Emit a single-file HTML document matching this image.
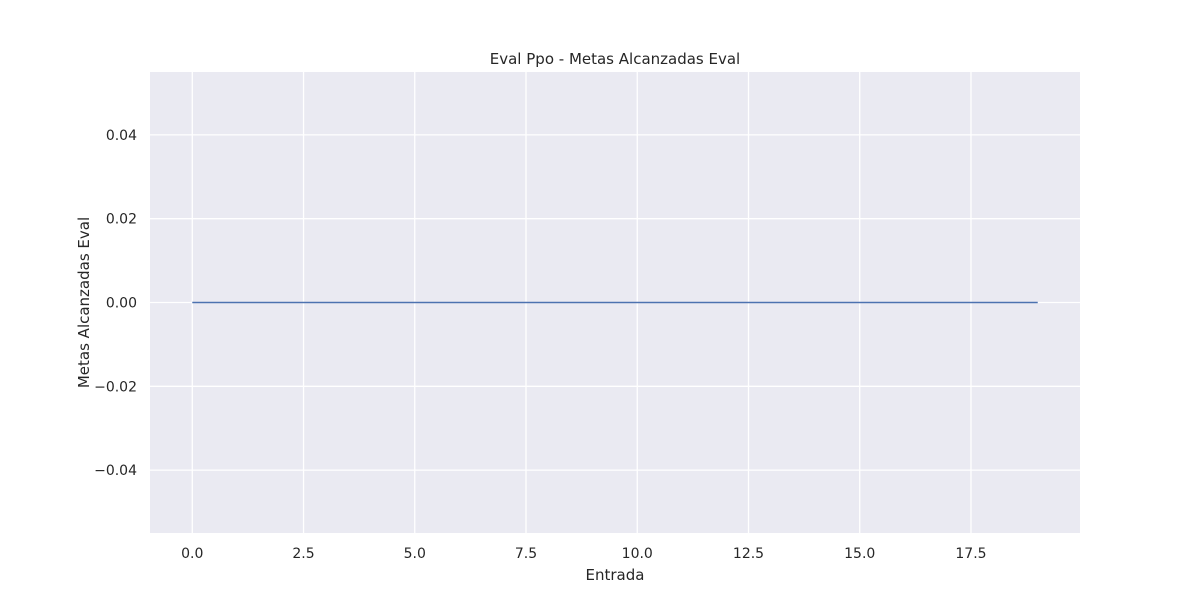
<!DOCTYPE html>
<html><head><meta charset="utf-8"><style>
body{margin:0;background:#fff;font-family:"DejaVu Sans","Liberation Sans",sans-serif;}
</style></head><body>
<svg id="chart" width="1200" height="600" xmlns="http://www.w3.org/2000/svg" font-family="DejaVu Sans, Liberation Sans, sans-serif"></svg>
<script>
const xValues=[0,1,2,3,4,5,6,7,8,9,10,11,12,13,14,15,16,17,18,19];
const yValues=[0,0,0,0,0,0,0,0,0,0,0,0,0,0,0,0,0,0,0,0];
const xTicks=[0,2.5,5,7.5,10,12.5,15,17.5];
const xTickLabels=["0.0","2.5","5.0","7.5","10.0","12.5","15.0","17.5"];
const yTicks=[-0.04,-0.02,0,0.02,0.04];
const yTickLabels=["\u22120.04","\u22120.02","0.00","0.02","0.04"];
const L=150,R=1080,T=72,B=533;
const xMin=-0.95,xMax=19.95,yMin=-0.055,yMax=0.055;
const sx=v=>L+(v-xMin)/(xMax-xMin)*(R-L);
const sy=v=>B-(v-yMin)/(yMax-yMin)*(B-T);
const svg=document.getElementById('chart');
const NS='http://www.w3.org/2000/svg';
function mk(tag,attrs,txt){const e=document.createElementNS(NS,tag);for(const k in attrs)e.setAttribute(k,attrs[k]);if(txt!==undefined)e.textContent=txt;svg.appendChild(e);return e;}
let bg=mk('rect',{x:L,y:T,width:R-L,height:B-T,fill:'#eaeaf2'});


xTicks.forEach((t,i)=>{
  let g=mk('line',{x1:sx(t),x2:sx(t),y1:T,y2:B,stroke:'#fff','stroke-width':1.3});
  
  
  let l=mk('text',{x:sx(t),y:B+25,'text-anchor':'middle','font-size':14,fill:'#262626'},xTickLabels[i]);
  
  
});
yTicks.forEach((t,i)=>{
  let g=mk('line',{x1:L,x2:R,y1:sy(t),y2:sy(t),stroke:'#fff','stroke-width':1.3});
  
  
  let l=mk('text',{x:L-13,y:sy(t)+5,'text-anchor':'end','font-size':14,fill:'#262626'},yTickLabels[i]);
  
  
});
let d=xValues.map((x,i)=>(i?'L':'M')+sx(x)+','+sy(yValues[i])).join(' ');
let p=mk('path',{d:d,fill:'none',stroke:'#4c72b0','stroke-width':1.6});


let ti=mk('text',{x:(L+R)/2,y:64,'text-anchor':'middle','font-size':15,fill:'#262626'},'Eval Ppo - Metas Alcanzadas Eval');


let xt=mk('text',{x:(L+R)/2,y:580,'text-anchor':'middle','font-size':15,fill:'#262626'},'Entrada');


let yt=mk('text',{x:0,y:0,'text-anchor':'middle','font-size':15,fill:'#262626',transform:'translate(89,'+((T+B)/2)+') rotate(-90)'},'Metas Alcanzadas Eval');


</script>
</body></html>
